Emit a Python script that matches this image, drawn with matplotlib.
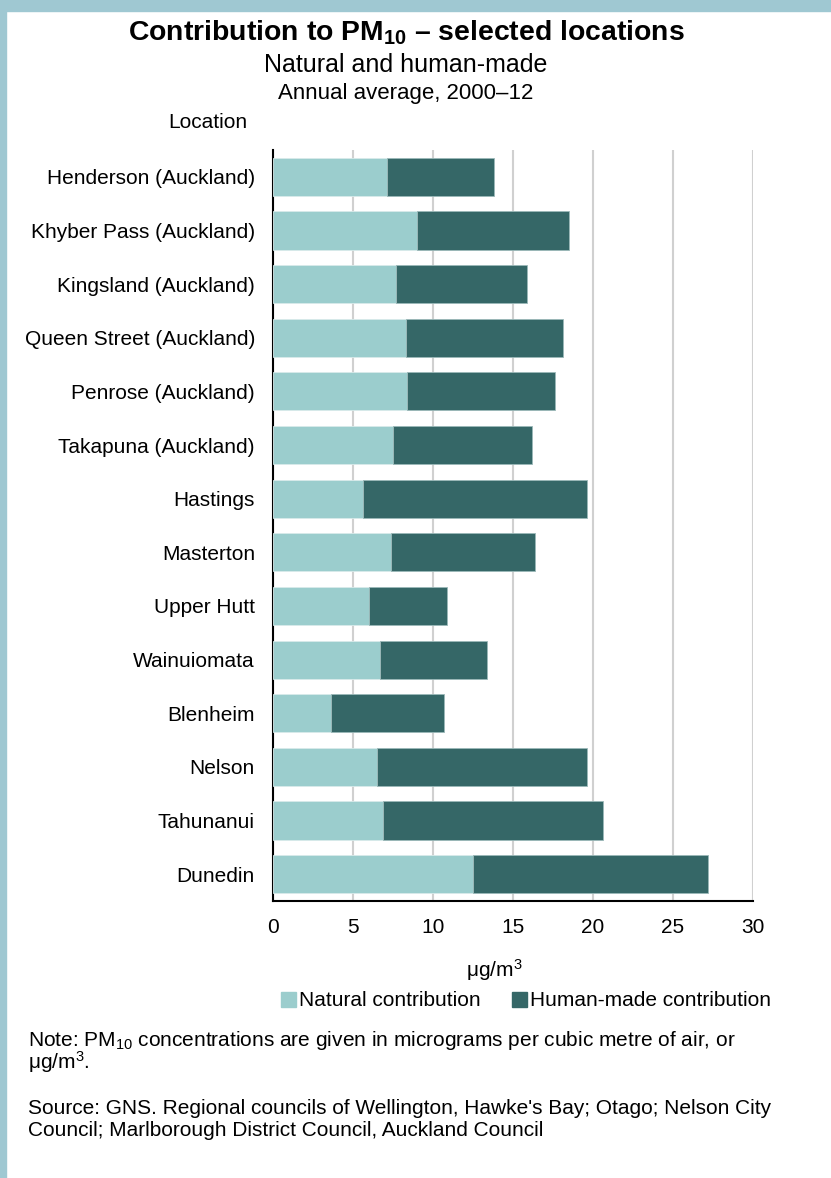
import matplotlib
matplotlib.use('Agg')
import matplotlib.pyplot as plt
import matplotlib.patches as mpatches
import numpy as np

plt.rcParams['font.family'] = ['Liberation Sans', 'DejaVu Sans']
plt.rcParams['mathtext.fontset'] = 'custom'
plt.rcParams['mathtext.rm'] = 'Liberation Sans'
plt.rcParams['mathtext.it'] = 'Liberation Sans:italic'
plt.rcParams['mathtext.bf'] = 'Liberation Sans:bold'

locations = ['Henderson (Auckland)', 'Khyber Pass (Auckland)', 'Kingsland (Auckland)',
             'Queen Street (Auckland)', 'Penrose (Auckland)', 'Takapuna (Auckland)',
             'Hastings', 'Masterton', 'Upper Hutt', 'Wainuiomata', 'Blenheim',
             'Nelson', 'Tahunanui', 'Dunedin']
natural = [7.1, 9.0, 7.7, 8.3, 8.4, 7.5, 5.6, 7.4, 6.0, 6.7, 3.6, 6.5, 6.9, 12.5]
human = [6.7, 9.5, 8.2, 9.8, 9.2, 8.7, 14.0, 9.0, 4.9, 6.7, 7.1, 13.1, 13.7, 14.7]
xticks = [0, 5, 10, 15, 20, 25, 30]

c_nat = '#9bcdcd'
c_hum = '#356767'
fs = 15

fig = plt.figure(figsize=(8.31, 11.78), dpi=100)
# border band
fig.patches.append(mpatches.Rectangle((0, 1 - 11 / 1178), 1, 11 / 1178, transform=fig.transFigure,
                                      color='#9fc8d2', zorder=0))
fig.patches.append(mpatches.Rectangle((0, 0), 6 / 831, 1, transform=fig.transFigure,
                                      color='#9fc8d2', zorder=0))

ax = fig.add_axes([273 / 831, 1 - 901 / 1178, 480 / 831, 751 / 1178])
y = np.arange(len(locations))
ax.barh(y, natural, height=0.71, color=c_nat, edgecolor='#d8eaea', linewidth=0.6, zorder=3)
ax.barh(y, human, left=natural, height=0.71, color=c_hum, edgecolor='#9bb9b9', linewidth=0.6, zorder=3)

ax.set_ylim(len(locations) - 0.5, -0.5)
ax.set_xlim(0, 30)
ax.set_yticks(y)
ax.set_yticklabels(locations, fontsize=fs)
ax.set_xticks(xticks)
ax.set_xticklabels([str(t) for t in xticks], fontsize=fs)
ax.tick_params(axis='y', length=0, pad=13)
ax.tick_params(axis='x', length=0, pad=12)
ax.grid(axis='x', color='#d0d0d0', linewidth=1.5, zorder=0)
ax.set_axisbelow(True)
for s in ['top', 'right']:
    ax.spines[s].set_visible(False)
ax.spines['left'].set_linewidth(1.5)
ax.spines['bottom'].set_linewidth(1.5)

cx = 406 / 831
fig.text(cx, 1 - 33 / 1178, r'Contribution to PM$_{\mathbf{10}}$ – selected locations',
         fontsize=20.4, fontweight='bold', ha='center', va='center')
fig.text(cx, 1 - 65 / 1178, 'Natural and human-made', fontsize=18, ha='center', va='center')
fig.text(cx, 1 - 93 / 1178, 'Annual average, 2000–12', fontsize=16, ha='center', va='center')
fig.text(208 / 831, 1 - 123 / 1178, 'Location', fontsize=fs, ha='center', va='center')
fig.text(494 / 831, 1 - 970 / 1178, r'μg/m$^3$', fontsize=fs, ha='center', va='center')

handles = [mpatches.Patch(color=c_nat, label='Natural contribution'),
           mpatches.Patch(color=c_hum, label='Human-made contribution')]
fig.legend(handles=handles, loc='center', bbox_to_anchor=(526 / 831, 1 - 1001 / 1178),
           ncol=2, frameon=False, fontsize=fs, handlelength=0.7, handleheight=0.7,
           handletextpad=0.15, columnspacing=1.5)

fig.text(28 / 831, 1 - 1040 / 1178,
         r'Note: PM$_{10}$ concentrations are given in micrograms per cubic metre of air, or',
         fontsize=fs, ha='left', va='center')
fig.text(28 / 831, 1 - 1062 / 1178, r'μg/m$^3$.', fontsize=fs, ha='left', va='center')
fig.text(28 / 831, 1 - 1109 / 1178,
         "Source: GNS. Regional councils of Wellington, Hawke's Bay; Otago; Nelson City",
         fontsize=fs, ha='left', va='center')
fig.text(28 / 831, 1 - 1131 / 1178,
         'Council; Marlborough District Council, Auckland Council',
         fontsize=fs, ha='left', va='center')

fig.savefig('out.png', dpi=100)
